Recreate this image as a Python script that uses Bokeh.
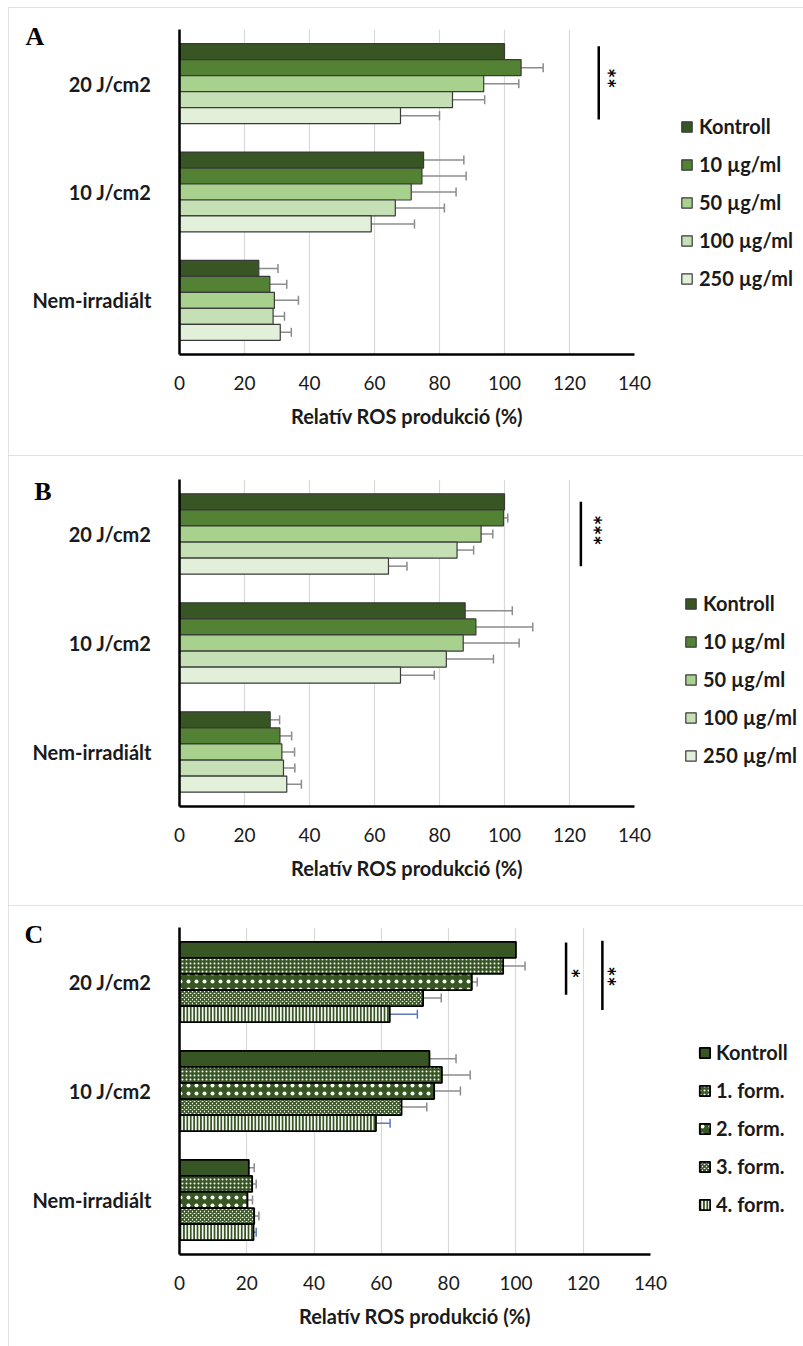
import math
from bokeh.plotting import figure
from bokeh.models import (ColumnDataSource, FactorRange, Range1d, FixedTicker, Whisker,
                          TeeHead, Legend, LegendItem, Label)
from bokeh.layouts import column
from bokeh.embed import file_html
from bokeh.resources import INLINE

# ---------------- data ----------------
categories = ["Nem-irradiált", "10 J/cm2", "20 J/cm2"]   # bottom -> top
x_ticks = [0, 20, 40, 60, 80, 100, 120, 140]
x_title = "Relatív ROS produkció (%)"

series_ab = ["Kontroll", "10 µg/ml", "50 µg/ml", "100 µg/ml", "250 µg/ml"]
series_c = ["Kontroll", "1. form.", "2. form.", "3. form.", "4. form."]

# Panel A  (values per category: Nem-irradiált, 10 J/cm2, 20 J/cm2)
a_kontroll = [24.4, 75.1, 100.0]
a_10 = [27.8, 74.6, 105.1]
a_50 = [29.2, 71.3, 93.6]
a_100 = [28.8, 66.4, 84.0]
a_250 = [31.0, 59.0, 68.0]
a_kontroll_err = [5.9, 12.4, 0.0]
a_10_err = [5.2, 13.6, 6.8]
a_50_err = [7.4, 13.8, 10.8]
a_100_err = [3.5, 15.1, 9.9]
a_250_err = [3.4, 13.3, 12.0]

# Panel B
b_kontroll = [27.9, 87.9, 100.0]
b_10 = [30.9, 91.2, 99.7]
b_50 = [31.5, 87.3, 92.8]
b_100 = [32.0, 82.1, 85.4]
b_250 = [33.0, 68.0, 64.3]
b_kontroll_err = [2.9, 14.5, 0.0]
b_10_err = [3.6, 17.5, 1.3]
b_50_err = [3.9, 17.2, 3.6]
b_100_err = [3.5, 14.5, 5.1]
b_250_err = [4.5, 10.4, 5.7]

# Panel C
c_kontroll = [20.6, 74.3, 100.0]
c_1 = [21.6, 78.0, 96.2]
c_2 = [20.2, 75.7, 86.9]
c_3 = [22.2, 66.0, 72.4]
c_4 = [22.0, 58.4, 62.5]
c_kontroll_err = [1.6, 7.9, 0.0]
c_1_err = [1.2, 8.4, 6.5]
c_2_err = [1.5, 7.8, 1.6]
c_3_err = [1.4, 7.5, 5.4]
c_4_err = [0.8, 4.2, 8.2]

# significance markers (x, y_from, y_to, text, text_x, text_y)
sig_a = [(129.0, 2.169, 2.846, "**", 131.4, 2.55)]
sig_b = [(123.5, 2.205, 2.795, "***", 127.2, 2.535)]
sig_c = [(114.9, 2.383, 2.862, "*", 116.1, 2.58),
         (125.7, 2.242, 2.878, "**", 127.0, 2.55)]

# ---------------- styles ----------------
FONT = "Lato"
green_styles = [
    dict(fill_color="#375623"),
    dict(fill_color="#548235"),
    dict(fill_color="#a9d18e"),
    dict(fill_color="#c5e0b4"),
    dict(fill_color="#e2f0d9"),
]
pattern_styles = [
    dict(fill_color="#375623"),
    dict(fill_color="#375623", hatch_pattern="dot", hatch_color="white", hatch_scale=4, hatch_weight=1.1),
    dict(fill_color="#375623", hatch_pattern="dot", hatch_color="white", hatch_scale=8, hatch_weight=0.9),
    dict(fill_color="white", hatch_pattern="diagonal_cross", hatch_color="#375623", hatch_scale=4, hatch_weight=1.6),
    dict(fill_color="white", hatch_pattern="vertical_line", hatch_color="#375623", hatch_scale=3.4, hatch_weight=2.2),
]
BAR_H = 0.1475
OFFSETS = [2 * BAR_H, BAR_H, 0.0, -BAR_H, -2 * BAR_H]


def make_panel(letter, letter_xy, values, errs, names, styles, outline, outline_w,
               height, frame_h, frame_w, top, left, legend_xy, sigs, margin,
               err_colors, legend_standoff):
    right = 795 - left - frame_w
    bottom = height - top - frame_h
    p = figure(frame_width=frame_w, frame_height=frame_h, x_range=Range1d(0, 140),
               y_range=FactorRange(factors=categories, range_padding=0),
               output_backend="svg", toolbar_location=None,
               min_border_left=left, min_border_right=right,
               min_border_top=top, min_border_bottom=bottom, margin=margin)
    p.outline_line_color = None
    p.background_fill_color = "white"
    p.border_fill_color = "white"
    p.styles = {"outline": "1.5px solid #d9d9d9", "outline-offset": "-1.5px"}

    # axes
    p.xaxis.ticker = FixedTicker(ticks=x_ticks)
    p.xaxis.axis_label = x_title
    p.xaxis.axis_label_text_font = FONT
    p.xaxis.axis_label_text_font_style = "bold"
    p.xaxis.axis_label_text_font_size = "20px"
    p.xaxis.axis_label_text_color = "#1a1a1a"
    p.xaxis.axis_label_standoff = 11
    p.xaxis.major_label_text_font = FONT
    p.xaxis.major_label_text_font_size = "19px"
    p.xaxis.major_label_text_color = "#1a1a1a"
    p.xaxis.major_label_standoff = 15
    p.xaxis.major_tick_line_color = None
    p.xaxis.minor_tick_line_color = None
    p.xaxis.axis_line_color = "black"
    p.xaxis.axis_line_width = 2.5

    p.yaxis.major_label_text_font = FONT
    p.yaxis.major_label_text_font_style = "bold"
    p.yaxis.major_label_text_font_size = "20px"
    p.yaxis.major_label_text_color = "#1a1a1a"
    p.yaxis.major_label_standoff = 22
    p.yaxis.major_tick_line_color = None
    p.yaxis.minor_tick_line_color = None
    p.yaxis.axis_line_color = "black"
    p.yaxis.axis_line_width = 2.5

    p.xgrid.grid_line_color = "#d9d9d9"
    p.xgrid.grid_line_width = 1.2
    p.ygrid.visible = False

    items = []
    for j, (name, vals, ers, st) in enumerate(zip(names, values, errs, styles)):
        ys = [i + 0.5 + OFFSETS[j] for i in range(len(categories))]
        src = ColumnDataSource(dict(y=ys, v=vals))
        r = p.hbar(y="y", left=0, right="v", height=BAR_H, source=src,
                   line_color=outline, line_width=outline_w, **st)
        items.append(LegendItem(label=name, renderers=[r]))
        keep = [k for k in range(len(vals)) if ers[k] > 0]
        wsrc = ColumnDataSource(dict(
            base=[ys[k] for k in keep],
            lower=[vals[k] for k in keep],
            upper=[vals[k] + ers[k] for k in keep]))
        col = err_colors[j]
        w = Whisker(source=wsrc, base="base", lower="lower", upper="upper",
                    dimension="width", line_color=col, line_width=1.5,
                    lower_head=None,
                    upper_head=TeeHead(size=9, line_color=col, line_width=1.5))
        p.add_layout(w)

    leg = Legend(items=items, location=legend_xy, orientation="vertical",
                 border_line_color=None, background_fill_alpha=0,
                 padding=0, margin=0, spacing=14, label_standoff=legend_standoff,
                 glyph_width=13, glyph_height=13, label_height=24,
                 label_text_font=FONT, label_text_font_size="20px",
                 label_text_font_style="bold", label_text_color="#1a1a1a")
    p.add_layout(leg, "right")

    for (sx, y0, y1, txt, tx, ty) in sigs:
        p.segment(x0=[sx], y0=[y0], x1=[sx], y1=[y1], line_color="black", line_width=2.5)
        p.add_layout(Label(x=tx, y=ty, text=txt, angle=-math.pi / 2,
                           text_align="center", text_baseline="middle",
                           text_font=FONT, text_font_style="bold",
                           text_font_size="24px", text_color="black"))

    p.add_layout(Label(x=letter_xy[0], y=letter_xy[1],
                       text=letter, text_align="left", text_baseline="middle",
                       text_font="Liberation Serif", text_font_style="bold",
                       text_font_size="26px", text_color="black"), "left")
    return p


gray = "#8c8c8c"
pA = make_panel("A", (-47.4, 2.94),
                [a_kontroll, a_10, a_50, a_100, a_250],
                [a_kontroll_err, a_10_err, a_50_err, a_100_err, a_250_err],
                series_ab, green_styles, "#3a3a3a", 1.2,
                height=448, frame_h=325, frame_w=455, top=22, left=170,
                legend_xy=(46, 64), sigs=sig_a, margin=(7, 0, 0, 8),
                err_colors=[gray] * 5, legend_standoff=6)
pB = make_panel("B", (-44.7, 2.89),
                [b_kontroll, b_10, b_50, b_100, b_250],
                [b_kontroll_err, b_10_err, b_50_err, b_100_err, b_250_err],
                series_ab, green_styles, "#3a3a3a", 1.2,
                height=450, frame_h=327, frame_w=455, top=24, left=170,
                legend_xy=(50, 39), sigs=sig_b, margin=(0, 0, 0, 8),
                err_colors=[gray] * 5, legend_standoff=6)
pC = make_panel("C", (-46.1, 2.94),
                [c_kontroll, c_1, c_2, c_3, c_4],
                [c_kontroll_err, c_1_err, c_2_err, c_3_err, c_4_err],
                series_c, pattern_styles, "black", 1.8,
                height=441, frame_h=327, frame_w=471, top=22, left=171,
                legend_xy=(48, 38), sigs=sig_c, margin=(0, 0, 0, 8),
                err_colors=[gray, gray, gray, gray, "#5b7bb5"], legend_standoff=5)

layout = column(pA, pB, pC, spacing=0)
open("out.html", "w").write(file_html(layout, INLINE))
